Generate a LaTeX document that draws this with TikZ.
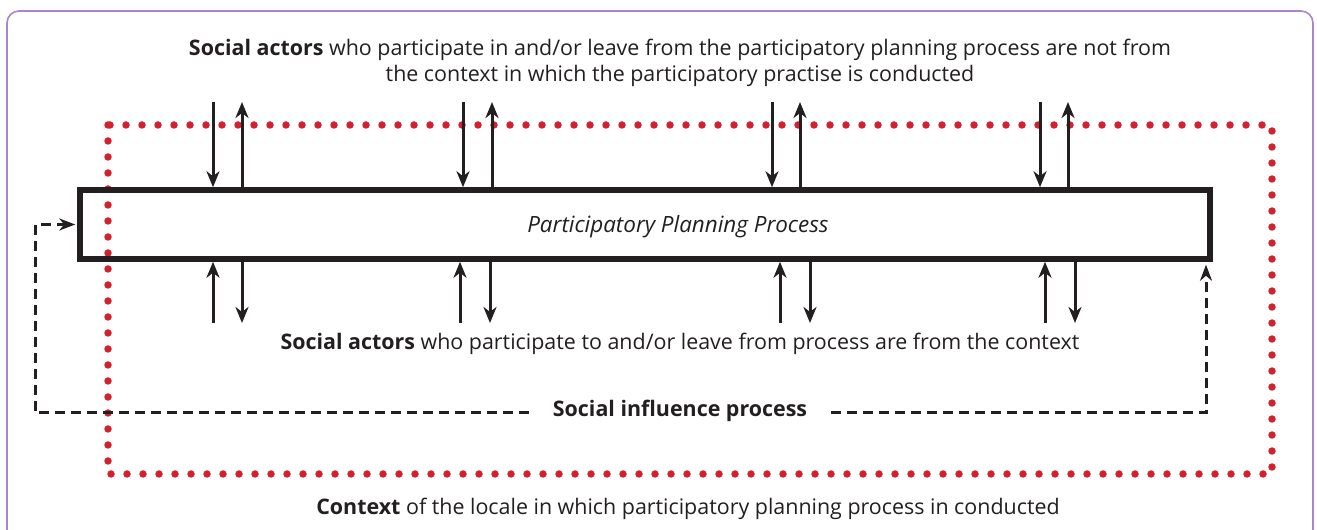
\documentclass[tikz,border=0pt]{standalone}
\usepackage{fontspec}
\setmainfont{Open Sans}
\usetikzlibrary{arrows.meta}
\definecolor{framepurple}{RGB}{172,132,204}
\definecolor{contextred}{RGB}{213,33,45}
\definecolor{inkblack}{RGB}{35,31,32}
\tikzset{
  flow/.style={inkblack,line width=3bp,-{Stealth[length=16bp,width=13bp,inset=5bp]}},
  influence/.style={inkblack,line width=3bp,dash pattern=on 10bp off 6bp},
  caption/.style={inner sep=0pt,text=inkblack,align=center,font=\fontsize{21.5}{26}\selectfont},
}
\begin{document}
\begin{tikzpicture}[>=latex,line join=miter,]
\useasboundingbox (0bp,0bp) rectangle (1317bp,530bp);
\clip (0bp,0bp) rectangle (1317bp,530bp);
%%
\draw [framepurple,line width=1.6bp,rounded corners=12bp] (7bp,-30bp) rectangle (1313bp,519bp);
\draw [contextred,line width=7.5bp,line cap=round,dash pattern=on 0bp off 16bp] (108bp,405bp) rectangle (1272bp,56bp);
%
\node (process_box) at (645bp,305.5bp) [draw=inkblack,line width=5.5bp,minimum width=1130bp,minimum height=69bp,inner sep=0pt] {};
\node (process_label) at (678bp,303bp) [caption,font=\fontsize{22.5}{26}\selectfont\itshape] {Participatory Planning Process};
\node (outside_label) at (680bp,467bp) [caption] {\textbf{Social actors} who participate in and/or leave from the participatory planning process are not from\\the context in which the participatory practise is conducted};
\node (inside_label) at (680bp,186bp) [caption] {\textbf{Social actors} who participate to and/or leave from process are from the context};
\node (influence_label) at (680bp,119bp) [caption,inner xsep=24bp] {\textbf{Social influence process}};
\node (context_label) at (688bp,21bp) [caption] {\textbf{Context} of the locale in which participatory planning process in conducted};
%
\coordinate (top_in_1) at (213bp,428bp);
\coordinate (top_out_1) at (242bp,428bp);
\coordinate (top_in_2) at (463bp,428bp);
\coordinate (top_out_2) at (492bp,428bp);
\coordinate (top_in_3) at (772bp,428bp);
\coordinate (top_out_3) at (800bp,428bp);
\coordinate (top_in_4) at (1040bp,428bp);
\coordinate (top_out_4) at (1068bp,428bp);
\coordinate (bottom_in_1) at (213bp,207bp);
\coordinate (bottom_out_1) at (242bp,207bp);
\coordinate (bottom_in_2) at (460bp,207bp);
\coordinate (bottom_out_2) at (490bp,207bp);
\coordinate (bottom_in_3) at (780bp,207bp);
\coordinate (bottom_out_3) at (810bp,207bp);
\coordinate (bottom_in_4) at (1045bp,207bp);
\coordinate (bottom_out_4) at (1075bp,207bp);
\coordinate (loop_left) at (35bp,117bp);
\coordinate (loop_right) at (1206bp,117bp);
%
\draw [flow] (top_in_1) -- (top_in_1 |- process_box.north);
\draw [flow] (top_out_1 |- process_box.north) -- (top_out_1);
\draw [flow] (top_in_2) -- (top_in_2 |- process_box.north);
\draw [flow] (top_out_2 |- process_box.north) -- (top_out_2);
\draw [flow] (top_in_3) -- (top_in_3 |- process_box.north);
\draw [flow] (top_out_3 |- process_box.north) -- (top_out_3);
\draw [flow] (top_in_4) -- (top_in_4 |- process_box.north);
\draw [flow] (top_out_4 |- process_box.north) -- (top_out_4);
\draw [flow] (bottom_in_1) -- (bottom_in_1 |- process_box.south);
\draw [flow] (bottom_out_1 |- process_box.south) -- (bottom_out_1);
\draw [flow] (bottom_in_2) -- (bottom_in_2 |- process_box.south);
\draw [flow] (bottom_out_2 |- process_box.south) -- (bottom_out_2);
\draw [flow] (bottom_in_3) -- (bottom_in_3 |- process_box.south);
\draw [flow] (bottom_out_3 |- process_box.south) -- (bottom_out_3);
\draw [flow] (bottom_in_4) -- (bottom_in_4 |- process_box.south);
\draw [flow] (bottom_out_4 |- process_box.south) -- (bottom_out_4);
%
\draw [influence,-{Stealth[length=16bp,width=12bp,inset=5bp]},shorten >=2bp] (influence_label.west |- loop_left) -- (loop_left) |- (process_box.west);
\draw [influence,-{Stealth[length=16bp,width=12bp,inset=5bp]},shorten >=3bp] (influence_label.east |- loop_right) -- (loop_right) -- (loop_right |- process_box.south);
%
\end{tikzpicture}
\end{document}
